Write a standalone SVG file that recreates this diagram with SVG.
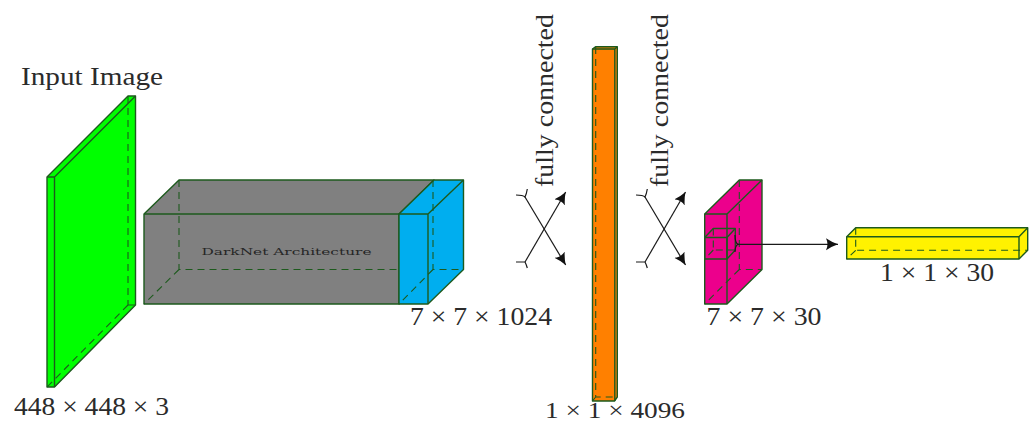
<svg xmlns="http://www.w3.org/2000/svg" width="1035" height="423" viewBox="0 0 1035 423">
<style>
.f{stroke:#1d5a1d;stroke-width:1.4;stroke-linejoin:round}
.d{fill:none;stroke:#1d5a1d;stroke-width:1.1;stroke-dasharray:7 5}
.c{fill:none;stroke:#1a1a1a;stroke-width:1.2}
.t{font-family:"Liberation Serif",serif;font-size:25px;fill:#2b2b2b}
.s{font-family:"DejaVu Serif","Liberation Serif",serif;font-size:10px;fill:#262626}
</style>
<defs>
<marker id="a" markerUnits="userSpaceOnUse" markerWidth="16" markerHeight="14" refX="12" refY="6" orient="auto">
<path d="M0 0Q6 4 12 6Q6 8 0 12Q3 6 0 0Z" fill="#111"/>
</marker>
</defs>
<g id="input-layer">
<path class="f" fill="#00ff00" d="M47 177L128 96H135.500V305L54.500 387H47Z"/>
<path class="d" d="M128 96V305M128 305H135.500M128 305L47 387"/>
<path class="f" fill="none" d="M47 177H54.500L135.500 96M54.500 177V387"/>
<text class="t" x="21" y="85" textLength="142" lengthAdjust="spacingAndGlyphs">Input Image</text>
<text class="t" x="14" y="415" textLength="155" lengthAdjust="spacingAndGlyphs">448 × 448 × 3</text>
</g>
<g id="darknet-layer">
<path class="f" fill="#808080" d="M144 214L179 180H434L399 214V304H144Z"/>
<path class="d" d="M179 180V269.500H399M179 269.500L144 304"/>
<path class="f" fill="none" d="M144 214H399"/>
<text class="s" x="201.500" y="255" textLength="170" lengthAdjust="spacingAndGlyphs">DarkNet Architecture</text>
</g>
<g id="feature-layer">
<path class="f" fill="#00aeef" d="M399 214L434 180H463.500V269.500L428 304H399Z"/>
<path class="d" d="M433 180V269.500H463.500M433 269.500L399 304"/>
<path class="f" fill="none" d="M399 214H428L463.500 180M428 214V304"/>
<text class="t" x="410" y="325" textLength="142" lengthAdjust="spacingAndGlyphs">7 × 7 × 1024</text>
</g>
<g id="fc-layer">
<path class="f" fill="#ff8000" d="M592.500 49L595.500 46.700H617.300V397L614.500 401H592.500Z"/>
<path class="d" d="M595.700 47V397H617M595.700 397L592.500 401"/>
<path class="f" fill="none" d="M592.500 49H614.800L617.300 46.700M614.800 49V401"/>
<text class="t" style="font-size:24px" x="545" y="417.500" textLength="140" lengthAdjust="spacingAndGlyphs">1 × 1 × 4096</text>
</g>
<g id="grid-layer">
<path class="f" fill="#ec008c" d="M704.700 214L739.300 180H762V269.500L727 304H704.700Z"/>
<path class="d" d="M739.300 180V269.500H762M739.300 269.500L704.700 304"/>
<path class="f" fill="none" d="M704.700 214H727L762 180M727 214V304"/>
<text class="t" x="706.500" y="325" textLength="115" lengthAdjust="spacingAndGlyphs">7 × 7 × 30</text>
</g>
<g id="grid-cell">
<path class="f" fill="none" d="M704.700 237.500L713.300 228.500H735.300V250L727 259H704.700Z"/>
<path class="d" stroke-dasharray="4 3" d="M713.300 228.500V250H735.300M713.300 250L704.700 259"/>
<path class="f" fill="none" d="M704.700 237.500H727L735.300 228.500M727 237.500V259"/>
</g>
<g id="output-layer">
<path class="f" fill="#fff200" d="M846.700 236.700L855.700 227.700H1027.700V250.300L1019 259H846.700Z"/>
<path class="d" d="M855.700 227.700V250.300H1027.700M855.700 250.300L846.700 259"/>
<path class="f" fill="none" d="M846.700 236.700H1019L1027.700 227.700M1019 236.700V259"/>
<text class="t" x="880" y="281" textLength="114" lengthAdjust="spacingAndGlyphs">1 × 1 × 30</text>
</g>
<g id="connectors">
<path class="c" marker-end="url(#a)" d="M525 197L565.700 265"/>
<path class="c" marker-end="url(#a)" d="M525 262L565.700 192"/>
<path class="c" d="M516 195Q523 195 525 197Q526.500 194 527.300 189M516 262Q523 262 525 262Q526.500 265 527.300 268"/>
<path class="c" marker-end="url(#a)" d="M645 197L685.500 265"/>
<path class="c" marker-end="url(#a)" d="M645 262L685.500 192"/>
<path class="c" d="M636 195Q643 195 645 197Q646.500 194 647.300 189M636 262Q643 262 645 262Q646.500 265 647.300 268"/>
<path class="c" marker-end="url(#a)" d="M738 244.300H838"/>
<path class="c" d="M735 235Q735 243 738 244.300Q735 246 735 252"/>
</g>
<g id="labels">
<text class="t" transform="translate(553 187) rotate(-90)" textLength="173" lengthAdjust="spacingAndGlyphs">fully connected</text>
<text class="t" transform="translate(668 187) rotate(-90)" textLength="173" lengthAdjust="spacingAndGlyphs">fully connected</text>
</g>
</svg>
